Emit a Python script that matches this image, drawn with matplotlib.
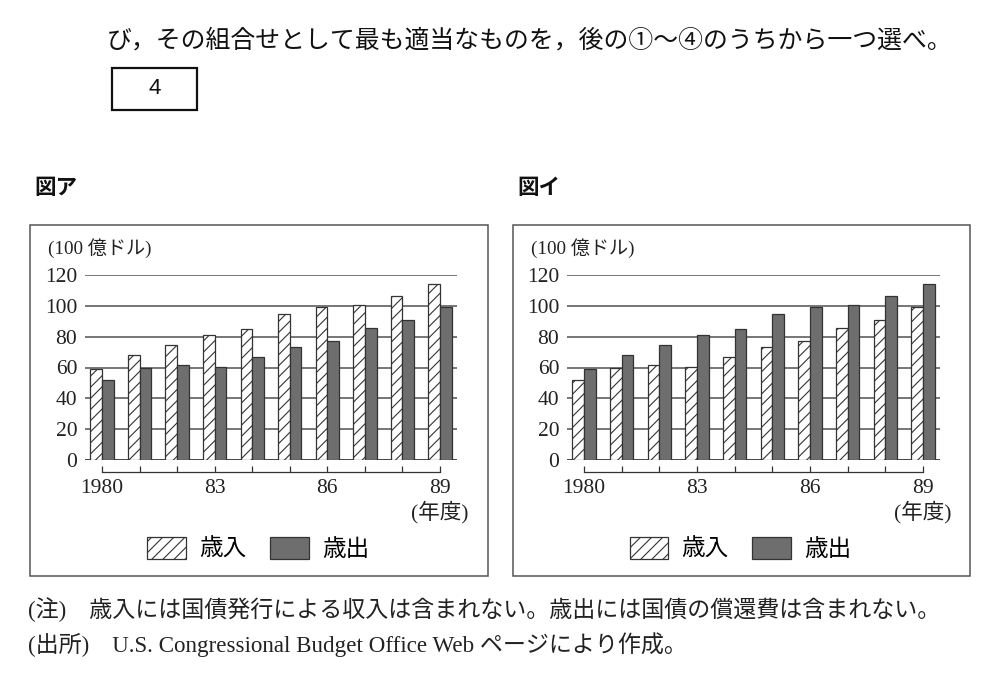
import matplotlib
matplotlib.use('Agg')
import matplotlib.pyplot as plt
from matplotlib.patches import Rectangle
from matplotlib.transforms import blended_transform_factory

plt.rcParams['font.family'] = ['Liberation Serif', 'Noto Sans CJK JP']
plt.rcParams['hatch.linewidth'] = 0.8

# ---- data (100億ドル) ----
years = ['1980', '81', '82', '83', '84', '85', '86', '87', '88', '89']
tick_labels = ['1980', '', '', '83', '', '', '86', '', '', '89']
revenue = [51.7, 59.9, 61.8, 60.1, 66.6, 73.4, 76.9, 85.4, 90.9, 99.1]
outlays = [59.1, 67.8, 74.6, 80.8, 85.2, 94.6, 99.0, 100.4, 106.4, 114.4]
yticks = [0, 20, 40, 60, 80, 100, 120]

# panel ア: hatched shows the larger series, イ: hatched shows the smaller series
panels = {
    '図ア': (outlays, revenue),
    '図イ': (revenue, outlays),
}

W, H = 1000, 673
fig = plt.figure(figsize=(W / 100, H / 100), dpi=100)


def fx(px):
    return px / W


def fy(py):
    return 1 - py / H


jp_sans = ['Noto Sans CJK JP', 'DejaVu Sans']

# header text
fig.text(fx(107), fy(41), 'び，その組合せとして最も適当なものを，後の①～④のうちから一つ選べ。',
         fontsize=17.9, family=jp_sans, va='center', ha='left', color='#111')
fig.add_artist(Rectangle((fx(112), fy(110)), fx(197) - fx(112), fy(68) - fy(110),
                         transform=fig.transFigure, fill=False, ec='#111', lw=1.6))
fig.text(fx(154.5), fy(89), '4', fontsize=16, family=['Liberation Sans'],
         ha='center', va='center', color='#111')

panel_boxes = [(30, 488), (513, 970)]
axes_x = [(85, 457), (567, 940)]
x_positions = list(range(len(years)))
bw = 0.31

for (title, (hvals, svals)), (bx0, bx1), (ax0, ax1) in zip(panels.items(), panel_boxes, axes_x):
    fig.text(fx(bx0 + 4), fy(188), title, fontsize=15.5, family=jp_sans,
             fontweight='bold', va='center', ha='left', color='#111')
    fig.add_artist(Rectangle((fx(bx0), fy(576)), fx(bx1) - fx(bx0), fy(225) - fy(576),
                             transform=fig.transFigure, fill=False, ec='#555', lw=1.1))
    fig.text(fx(bx0 + 18), fy(248), '(100 億ドル)', fontsize=13.8, va='center', ha='left',
             color='#222')

    ax = fig.add_axes([fx(ax0), fy(460), fx(ax1) - fx(ax0), fy(275) - fy(460)])
    ax.set_facecolor('none')
    ax.set_xlim(-0.453, len(years) - 1 + 0.453)
    ax.set_ylim(0, 120)

    for v in yticks:
        ax.axhline(v, color='#444444' if v == 0 else '#767676', lw=1.4, zorder=1)

    b1 = ax.bar([x - bw for x in x_positions], hvals, width=bw, align='edge',
                color='white', edgecolor='#333333', hatch='///', lw=0.9, zorder=3,
                label='歳入')
    b2 = ax.bar(x_positions, svals, width=bw, align='edge',
                color='#6e6e6e', edgecolor='#333333', lw=0.9, zorder=3,
                label='歳出')

    for s in ['top', 'right', 'left']:
        ax.spines[s].set_visible(False)
    ax.spines['bottom'].set_position(('outward', 8.6))
    ax.spines['bottom'].set_bounds(0, len(years) - 1)
    ax.spines['bottom'].set_color('#333')
    ax.spines['bottom'].set_linewidth(0.9)

    ax.set_xticks(x_positions)
    ax.set_xticklabels(tick_labels)
    ax.tick_params(axis='x', direction='in', length=4.3, width=0.9, color='#333',
                   pad=5, labelsize=15.5, labelcolor='#222')
    ax.set_yticks(yticks)
    ax.set_yticklabels([str(v) for v in yticks])
    ax.tick_params(axis='y', length=0, pad=5.5, labelsize=15.5, labelcolor='#222')

    tr = blended_transform_factory(ax.transData, ax.transAxes)
    ax.text(len(years) - 1, -0.283, '(年度)', transform=tr, ha='center', va='center',
            fontsize=15.5, color='#222')

    leg = ax.legend(loc='center', bbox_to_anchor=(fx((bx0 + bx1) / 2 - 1), fy(549)),
                    bbox_transform=fig.transFigure, ncol=2, frameon=False,
                    fontsize=17, handlelength=1.65, handleheight=1.05,
                    handletextpad=0.55, columnspacing=1.0, borderpad=0)

# notes
fig.text(fx(28), fy(610), '(注)　歳入には国債発行による収入は含まれない。歳出には国債の償還費は含まれない。',
         fontsize=16.6, va='center', ha='left', color='#222')
fig.text(fx(28), fy(645), '(出所)　U.S. Congressional Budget Office Web ページにより作成。',
         fontsize=16.6, va='center', ha='left', color='#222')

fig.savefig('out.png', dpi=100)
